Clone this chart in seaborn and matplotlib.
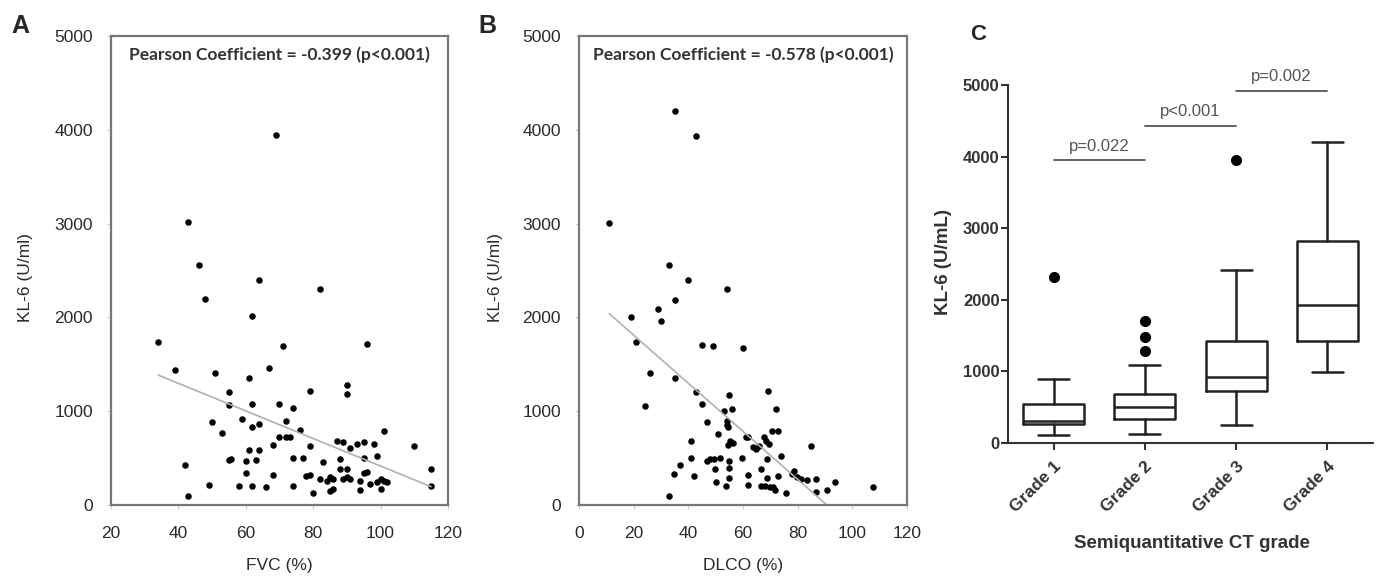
import numpy as np
import pandas as pd
import matplotlib
matplotlib.use('Agg')
import matplotlib.pyplot as plt
import seaborn as sns

# panel A: FVC vs KL-6
fvc = [69, 43, 46, 64, 82, 48, 62, 34, 71, 96, 39, 51, 67, 61, 90, 90, 79, 55, 55, 62,
       70, 74, 50, 59, 62, 64, 72, 53, 76, 101, 70, 72, 73, 68, 79, 87, 89, 91, 93, 95,
       98, 110, 61, 64, 55, 55.5, 60, 63, 74, 77, 83, 88, 95, 99, 42, 60, 68, 78, 79, 88,
       90, 95, 96, 115, 49, 58, 62, 66, 74, 82, 84, 85, 86, 89, 90, 91, 94, 97, 99, 100,
       101, 102, 100, 94, 85, 86, 80, 115, 43]
kl6_fvc = [3950, 3020, 2560, 2400, 2300, 2200, 2020, 1740, 1700, 1720, 1440, 1410, 1460, 1350, 1285, 1180, 1220, 1205, 1062, 1075,
           1075, 1030, 890, 915, 830, 865, 900, 765, 795, 790, 730, 730, 730, 635, 625, 685, 676, 612, 648, 676,
           655, 627, 585, 585, 478, 495, 470, 478, 506, 496, 460, 489, 506, 524, 428, 336, 315, 308, 322, 379,
           379, 343, 350, 386, 216, 198, 205, 188, 205, 280, 251, 300, 280, 273, 294, 280, 251, 223, 244, 280,
           251, 244, 166, 159, 145, 166, 131, 205, 96]

# panel B: DLCO vs KL-6
dlco = [35, 43, 11, 33, 40, 54, 35, 19, 29, 30, 21, 45, 49, 60, 26, 35, 24, 43, 55, 69,
        45, 53, 56, 72, 47, 54, 54, 54.4, 51, 70.5, 73, 61, 62, 41, 55.4, 56.3, 54.6, 67.6, 68.5, 69.5,
        63.7, 64.9, 66, 85, 41, 46.8, 47.8, 49.3, 51.7, 54.9, 59.8, 68.9, 73.9, 37, 49.9, 54.9, 66.8, 34.9, 42, 61.7,
        72.9, 78, 78.8, 79.9, 81.1, 83.5, 86.8, 54.9, 68.9, 50, 93.8, 53.9, 61.7, 66.8, 68, 69.9, 71.1, 71.7, 75.9, 86.8,
        90.7, 107.7, 32.9]
kl6_dlco = [4200, 3940, 3010, 2560, 2400, 2300, 2190, 2010, 2090, 1965, 1735, 1710, 1695, 1670, 1405, 1350, 1058, 1203, 1175, 1217,
            1072, 1005, 1019, 1026, 885, 900, 857, 829, 762, 790, 790, 727, 727, 681, 681, 660, 638, 723, 681, 652,
            617, 596, 624, 624, 504, 469, 487, 487, 504, 469, 504, 487, 522, 427, 381, 395, 381, 335, 314, 321,
            314, 335, 363, 300, 279, 265, 279, 286, 286, 250, 247, 205, 215, 205, 205, 194, 187, 159, 131, 138,
            159, 194, 95]

# panel C: box statistics by CT grade
grades = ['Grade 1', 'Grade 2', 'Grade 3', 'Grade 4']
whisker_low = [110, 130, 256, 990]
q1 = [265, 335, 721, 1419]
median = [310, 498, 916, 1930]
q3 = [544, 688, 1419, 2829]
whisker_high = [898, 1084, 2420, 4200]
outliers = [[2320], [1290, 1484, 1707], [3950], []]

compare_pairs = [(0, 1), (1, 2), (2, 3)]
compare_labels = ['p=0.022', 'p<0.001', 'p=0.002']
compare_heights = [3950, 4430, 4920]

sns.set_style('white')
plt.rcParams['font.family'] = ['Liberation Sans', 'DejaVu Sans']

fig = plt.figure(figsize=(13.8, 5.81), dpi=100)

df_a = pd.DataFrame({'FVC': fvc, 'KL6': kl6_fvc})
df_b = pd.DataFrame({'DLCO': dlco, 'KL6': kl6_dlco})

ax_a = fig.add_axes([0.0804, 0.1308, 0.2442, 0.807])
ax_b = fig.add_axes([0.4196, 0.1308, 0.2375, 0.807])

text_col = '#2a2a2a'
panels = [(ax_a, df_a, 'FVC', 'FVC (%)', (20, 120), '-0.399'),
          (ax_b, df_b, 'DLCO', 'DLCO (%)', (0, 120), '-0.578')]

for ax, df, col, xlab, xlim, r in panels:
    sns.regplot(data=df, x=col, y='KL6', ax=ax, ci=None,
                scatter_kws=dict(s=22, color='black', linewidths=0, alpha=1),
                line_kws=dict(color='#b0b0b0', lw=1.2))
    ax.set_xlim(*xlim)
    ax.set_ylim(0, 5000)
    ax.set_xticks(np.arange(xlim[0], 121, 20))
    ax.set_yticks(np.arange(0, 5001, 1000))
    for s in ax.spines.values():
        s.set_visible(True)
        s.set_color('#777777')
        s.set_linewidth(1.6)
    ax.tick_params(axis='both', length=3, color='#cccccc', labelsize=12.5,
                   labelcolor=text_col, left=True, bottom=True)
    ax.tick_params(axis='y', pad=10)
    ax.tick_params(axis='x', pad=12)
    ax.set_xlabel(xlab, fontsize=12.5, color=text_col)
    ax.set_ylabel('KL-6 (U/ml)', fontsize=12.5, color=text_col)
    ax.xaxis.set_label_coords(0.5, -0.112)
    ax.yaxis.set_label_coords(-0.232, 0.486)
    ax.text(0.5, 0.96, f'Pearson Coefficient = {r} (p<0.001)', transform=ax.transAxes,
            ha='center', va='center', fontsize=12.5, weight='bold', color='#333333',
            family=['Lato', 'DejaVu Sans'])

fig.text(0.0145, 0.955, 'A', fontsize=18, weight='bold', ha='center', va='center')
fig.text(0.353, 0.955, 'B', fontsize=18, weight='bold', ha='center', va='center')
fig.text(0.709, 0.941, 'C', fontsize=16, weight='bold', ha='center', va='center')

# panel C
ax_c = fig.add_axes([0.7304, 0.2375, 0.2645, 0.616])
stats = []
for i in range(len(grades)):
    stats.append(dict(label=grades[i], whislo=whisker_low[i], q1=q1[i], med=median[i],
                      q3=q3[i], whishi=whisker_high[i], fliers=outliers[i]))
box_lw = 1.8
ax_c.bxp(stats, positions=range(len(grades)), widths=0.67, capwidths=0.34,
         boxprops=dict(color='#222222', lw=box_lw),
         medianprops=dict(color='#222222', lw=box_lw),
         whiskerprops=dict(color='#222222', lw=box_lw),
         capprops=dict(color='#222222', lw=box_lw),
         flierprops=dict(marker='o', markerfacecolor='black', markeredgecolor='black', markersize=7))
ax_c.set_xlim(-0.5, 3.5)
ax_c.set_ylim(0, 5000)
ax_c.set_yticks(np.arange(0, 5001, 1000))
ax_c.set_xticks(range(len(grades)))
ax_c.set_xticklabels(grades, rotation=45, ha='right', rotation_mode='anchor')
sns.despine(ax=ax_c)
for side in ['left', 'bottom']:
    ax_c.spines[side].set_color('#333333')
    ax_c.spines[side].set_linewidth(1.5)
ax_c.tick_params(axis='both', length=5, width=1.5, color='#333333', labelsize=12,
                 labelcolor='#333333', left=True, bottom=True)
ax_c.tick_params(axis='x', labelsize=12.5, pad=6)
ax_c.tick_params(axis='y', pad=1)
for lab in ax_c.get_xticklabels() + ax_c.get_yticklabels():
    lab.set_fontweight('bold')
ax_c.set_ylabel('KL-6 (U/mL)', fontsize=13.5, weight='bold', color='#333333')
ax_c.yaxis.set_label_coords(-0.153, 0.505)
ax_c.set_xlabel('Semiquantitative CT grade', fontsize=13.5, weight='bold', color='#333333')
ax_c.xaxis.set_label_coords(0.504, -0.257)

for (a, b), lab, h in zip(compare_pairs, compare_labels, compare_heights):
    ax_c.plot([a, b], [h, h], color='#555555', lw=1.3, clip_on=False)
    ax_c.text((a + b) / 2, h + 90, lab, ha='center', va='bottom', fontsize=12,
              color='#555555', clip_on=False)

fig.savefig('out.png', dpi=100)
